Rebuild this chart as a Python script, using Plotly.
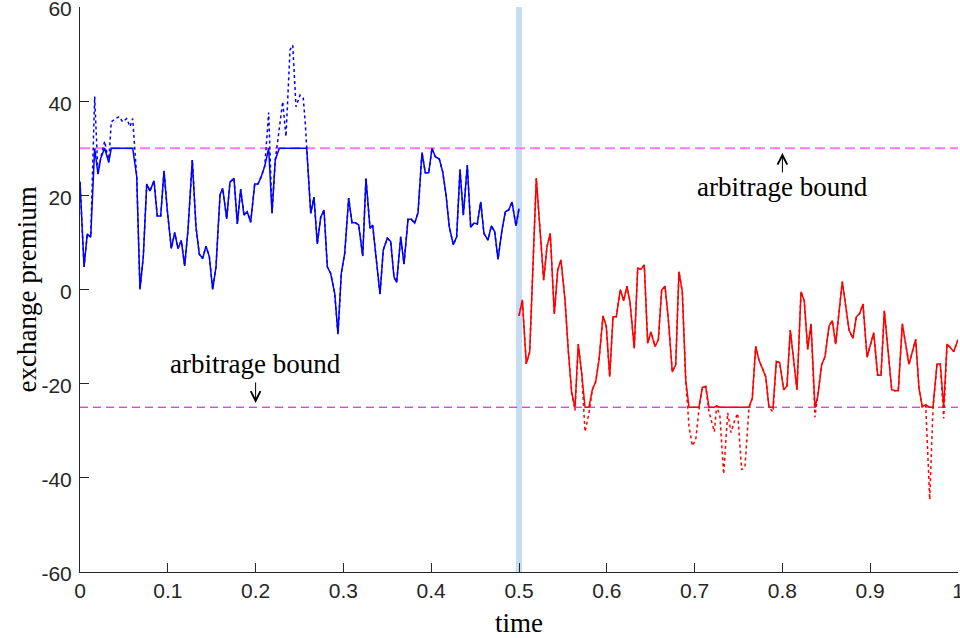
import numpy as np
import plotly.graph_objects as go

# ---- data ----
blue_t = [0.0, 0.0046, 0.0083, 0.0122, 0.0167, 0.0205, 0.0236, 0.0281, 0.0327, 0.0356,
          0.0402, 0.0448, 0.0486, 0.0532, 0.0569, 0.0600, 0.0646, 0.0683, 0.0721, 0.0760,
          0.0797, 0.0843, 0.0880, 0.0919, 0.0957, 0.0994, 0.1040, 0.1079, 0.1116, 0.1154,
          0.1192, 0.1230, 0.1279, 0.1321, 0.1359, 0.1397, 0.1435, 0.1473, 0.1511, 0.1549,
          0.1595, 0.1625, 0.1671, 0.1708, 0.1754, 0.1792, 0.1830, 0.1868, 0.1905, 0.1944,
          0.1990, 0.2027, 0.2065, 0.2104, 0.2149, 0.2187, 0.2224, 0.2270, 0.2309, 0.2346,
          0.2392, 0.2423, 0.2460, 0.2506, 0.2543, 0.2563, 0.2582, 0.2628, 0.2665, 0.2703,
          0.2741, 0.2779, 0.2817, 0.2855, 0.2901, 0.2938, 0.2976, 0.3015, 0.3060, 0.3098,
          0.3136, 0.3174, 0.3220, 0.3257, 0.3303, 0.3333, 0.3379, 0.3417, 0.3454, 0.3500,
          0.3539, 0.3576, 0.3607, 0.3653, 0.3690, 0.3736, 0.3773, 0.3812, 0.3850, 0.3895,
          0.3933, 0.3972, 0.4009, 0.4047, 0.4092, 0.4131, 0.4169, 0.4206, 0.4252, 0.4290,
          0.4328, 0.4366, 0.4411, 0.4450, 0.4487, 0.4525, 0.4564, 0.4601, 0.4647, 0.4685,
          0.4723, 0.4761, 0.4806, 0.4844, 0.4883, 0.4920, 0.4966, 0.5000]
blue_raw = [22.9, 4.8, 11.8, 11.1, 41.0, 24.5, 27.9, 31.5, 27.0, 35.6,
            36.3, 36.7, 35.6, 36.3, 34.6, 36.3, 24.0, 0.0, 7.0, 22.4,
            20.9, 23.1, 15.6, 15.6, 25.2, 16.9, 8.7, 12.1, 8.7, 10.4,
            5.0, 12.6, 27.5, 13.3, 7.5, 6.6, 9.2, 7.0, 0.0, 4.8,
            20.1, 21.5, 15.0, 22.8, 23.6, 13.9, 21.3, 15.8, 16.5, 14.3,
            22.4, 22.4, 24.0, 26.2, 37.6, 16.2, 27.5, 34.6, 39.9, 32.5,
            50.9, 51.9, 38.8, 41.3, 40.6, 36.0, 30.0, 16.2, 19.6, 9.7,
            15.3, 16.9, 4.8, 3.4, -0.8, -9.5, 3.4, 7.7, 19.4, 14.2,
            14.2, 13.7, 7.1, 23.6, 13.0, 13.7, 5.6, -1.0, 8.4, 10.9,
            10.2, 2.7, 1.5, 11.2, 5.4, 14.9, 14.9, 14.1, 16.3, 29.1,
            24.8, 24.8, 30.0, 28.2, 27.7, 25.0, 20.1, 13.3, 9.5, 11.2,
            25.5, 15.8, 26.4, 13.2, 14.1, 13.9, 18.6, 11.9, 10.5, 13.5,
            12.3, 6.4, 12.6, 16.5, 16.9, 18.6, 13.5, 17.2]

red_t = [0.5000, 0.5038, 0.5083, 0.5122, 0.5197, 0.5236, 0.5281, 0.5319, 0.5356, 0.5402,
         0.5441, 0.5478, 0.5524, 0.5561, 0.5600, 0.5638, 0.5675, 0.5714, 0.5752, 0.5797,
         0.5835, 0.5873, 0.5911, 0.5957, 0.5994, 0.6033, 0.6071, 0.6108, 0.6154, 0.6192,
         0.6230, 0.6264, 0.6313, 0.6352, 0.6390, 0.6427, 0.6466, 0.6503, 0.6549, 0.6587,
         0.6625, 0.6663, 0.6700, 0.6746, 0.6785, 0.6822, 0.6860, 0.6899, 0.6936, 0.6974,
         0.7012, 0.7050, 0.7088, 0.7127, 0.7164, 0.7225, 0.7251, 0.7289, 0.7331, 0.7377,
         0.7415, 0.7453, 0.7491, 0.7536, 0.7574, 0.7620, 0.7657, 0.7696, 0.7733, 0.7771,
         0.7810, 0.7847, 0.7893, 0.7931, 0.7969, 0.8015, 0.8052, 0.8090, 0.8129, 0.8166,
         0.8212, 0.8249, 0.8288, 0.8326, 0.8371, 0.8402, 0.8447, 0.8485, 0.8531, 0.8568,
         0.8607, 0.8682, 0.8728, 0.8759, 0.8804, 0.8842, 0.8880, 0.8918, 0.8964, 0.9001,
         0.9040, 0.9085, 0.9123, 0.9161, 0.9199, 0.9245, 0.9282, 0.9320, 0.9366, 0.9404,
         0.9442, 0.9518, 0.9556, 0.9593, 0.9632, 0.9678, 0.9715, 0.9761, 0.9798, 0.9837,
         0.9875, 0.9912, 0.9951, 1.0000]
red_raw = [-5.6, -2.2, -15.8, -13.2, 23.6, 12.6, 2.0, 9.1, 11.9, -5.2,
           4.1, 6.3, -2.2, -12.9, -21.9, -25.7, -11.6, -17.8, -30.2, -26.3,
           -21.3, -19.6, -15.0, -5.6, -7.8, -18.5, -5.8, -5.8, 0.0, -2.4,
           0.7, -2.6, -12.5, 4.5, 4.3, 5.2, -11.4, -9.0, -12.1, -10.7,
           -0.1, 0.7, -6.1, -17.5, -16.0, 3.8, -0.5, -19.2, -29.0, -33.2,
           -32.0, -25.5, -20.8, -20.6, -26.0, -30.2, -24.7, -27.0, -39.2, -26.2,
           -30.4, -28.0, -26.3, -38.3, -37.6, -25.0, -23.1, -12.1, -15.0, -16.7,
           -18.5, -25.0, -26.0, -15.3, -15.5, -21.3, -20.5, -8.6, -15.0, -21.3,
           -0.5, -2.4, -12.7, -7.3, -27.1, -22.8, -16.0, -14.3, -7.8, -6.6,
           -11.6, 1.7, -4.4, -8.6, -10.4, -5.8, -5.1, -3.1, -14.4, -11.6,
           -9.2, -18.2, -18.2, -4.5, -11.4, -21.3, -21.5, -21.5, -7.3, -11.4,
           -15.9, -10.6, -21.0, -24.9, -24.5, -44.6, -25.2, -15.8, -15.8, -27.4,
           -11.6, -12.3, -13.2, -10.7]

upper_bound = 30
lower_bound = -25
switch_time = 0.5

x_ticks = [0, 0.1, 0.2, 0.3, 0.4, 0.5, 0.6, 0.7, 0.8, 0.9, 1]
x_tick_labels = ["0", "0.1", "0.2", "0.3", "0.4", "0.5", "0.6", "0.7", "0.8", "0.9", "1"]
y_ticks = [-60, -40, -20, 0, 20, 40, 60]
y_tick_labels = ["-60", "-40", "-20", "0", "20", "40", "60"]

bound_label = "arbitrage bound"
x_title = "time"
y_title = "exchange premium"

# label anchor points (data coords)
upper_label_x, upper_label_y = 0.8, 21.8
lower_label_x, lower_label_y = 0.2, -15.8

# ---- figure ----
blue_clip = np.minimum(np.array(blue_raw), upper_bound)
red_clip = np.maximum(np.array(red_raw), lower_bound)

fig = go.Figure()
fig.add_trace(go.Scatter(x=blue_t, y=blue_raw, mode="lines",
                         line=dict(color="#0000ff", width=1.5, dash="dot"), showlegend=False))
fig.add_trace(go.Scatter(x=red_t, y=red_raw, mode="lines",
                         line=dict(color="#ff0000", width=1.5, dash="dot"), showlegend=False))
fig.add_trace(go.Scatter(x=blue_t, y=blue_clip, mode="lines",
                         line=dict(color="#0000ff", width=1.5), showlegend=False))
fig.add_trace(go.Scatter(x=red_t, y=red_clip, mode="lines",
                         line=dict(color="#ff0000", width=1.5), showlegend=False))

fig.add_vline(x=switch_time, line=dict(color="#c6dcf2", width=6), layer="below")
fig.add_hline(y=upper_bound, line=dict(color="#ff77ff", width=2, dash="10px,5px"), layer="below")
fig.add_hline(y=lower_bound, line=dict(color="#c800c8", width=1, dash="8px,5px"), layer="below")

serif = "Liberation Serif"
tfont = dict(family=serif, size=27, color="#000000")

# labels
fig.add_annotation(x=upper_label_x, y=upper_label_y, text=bound_label, showarrow=False, font=tfont)
fig.add_annotation(x=lower_label_x, y=lower_label_y, text=bound_label, showarrow=False, font=tfont)
# arrows pointing at the bounds
fig.add_annotation(x=upper_label_x, y=upper_bound - 1.0, text="", showarrow=True,
                   ax=0, ay=21, arrowhead=5, arrowsize=1.9, arrowwidth=1,
                   arrowcolor="#000000", standoff=0, startstandoff=0)
fig.add_annotation(x=lower_label_x, y=lower_bound + 0.9, text="", showarrow=True,
                   ax=0, ay=-22, arrowhead=5, arrowsize=1.9, arrowwidth=1,
                   arrowcolor="#000000", standoff=0, startstandoff=0)

# axis titles
fig.add_annotation(xref="paper", yref="paper", x=0, y=0.5, xshift=-54, text=y_title,
                   textangle=-90, showarrow=False, font=tfont, xanchor="center", yanchor="middle")
fig.add_annotation(xref="paper", yref="paper", x=0.5, y=0, yshift=-51, text=x_title,
                   showarrow=False, font=tfont, xanchor="center", yanchor="middle")

axis_common = dict(showline=True, linecolor="#262626", linewidth=1, ticks="inside",
                   ticklen=9, tickcolor="#262626", showgrid=False, zeroline=False,
                   ticklabeloverflow="allow", automargin=False,
                   tickfont=dict(family="Liberation Sans", size=21, color="#262626"))

fig.update_layout(
    width=960, height=638,
    margin=dict(l=80, r=2, t=7, b=66),
    paper_bgcolor="white", plot_bgcolor="white",
    xaxis=dict(range=[0, 1], tickvals=x_ticks, ticktext=x_tick_labels, **axis_common),
    yaxis=dict(range=[-60, 60], tickvals=y_ticks, ticktext=y_tick_labels,
               ticklabelstandoff=3, ticklabelshift=2, **axis_common),
)

fig.write_html("out.html", config={"displayModeBar": False},
               post_script="document.body.style.margin='0px';")
